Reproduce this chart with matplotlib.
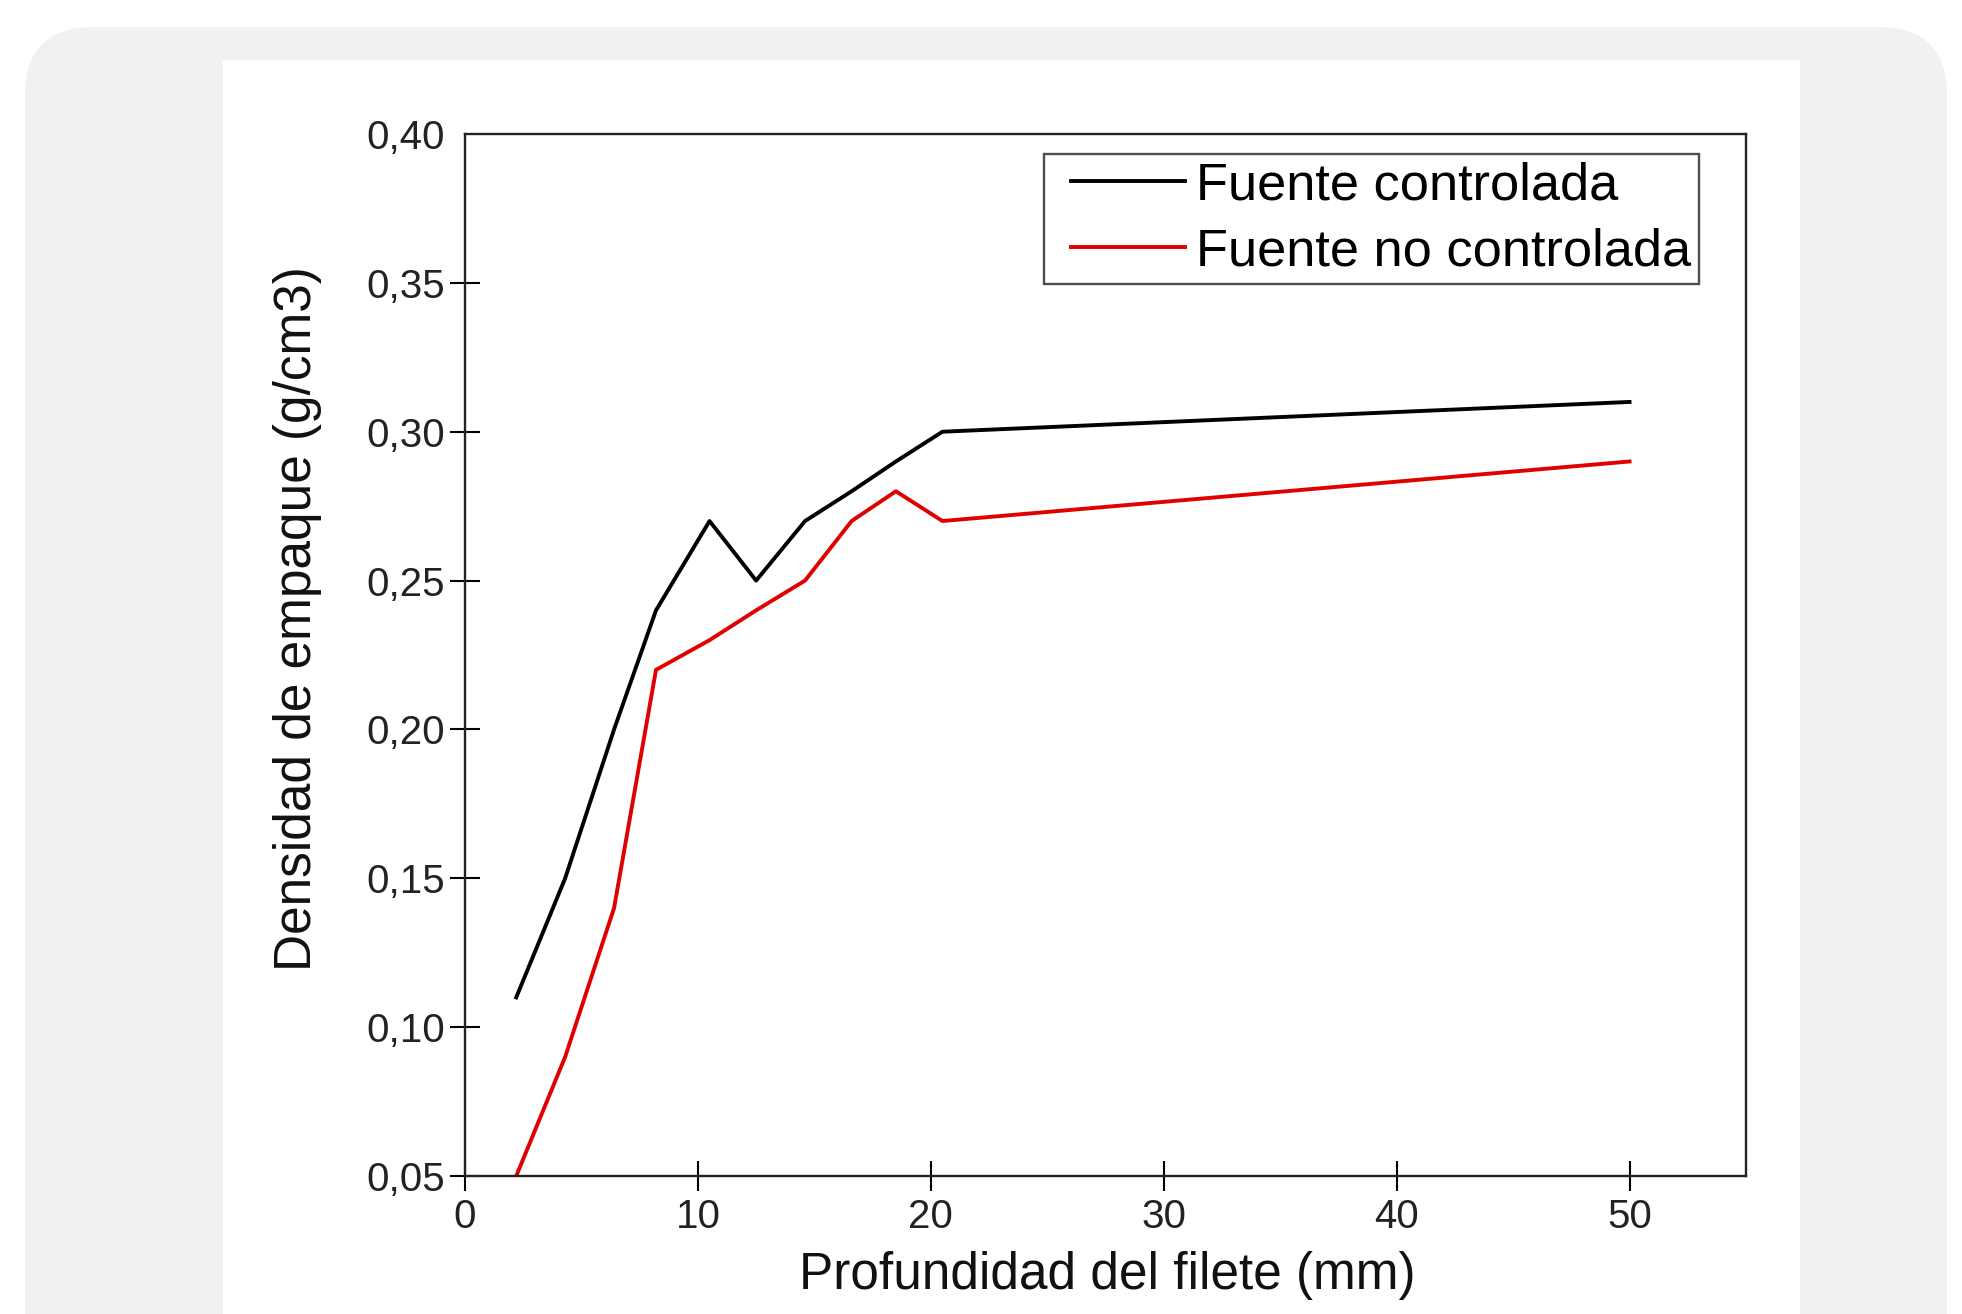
import matplotlib.pyplot as plt
from matplotlib.patches import FancyBboxPatch, Rectangle
from matplotlib.legend_handler import HandlerLine2D

plt.rcParams['font.family'] = ['Liberation Sans', 'DejaVu Sans']

# Data
profundidad = [2.2, 4.3, 6.4, 8.2, 10.5, 12.5, 14.6, 16.6, 18.5, 20.5, 50]
controlada = [0.11, 0.15, 0.20, 0.24, 0.27, 0.25, 0.27, 0.28, 0.29, 0.30, 0.31]
no_controlada = [0.05, 0.09, 0.14, 0.22, 0.23, 0.24, 0.25, 0.27, 0.28, 0.27, 0.29]

x_ticks = [0, 10, 20, 30, 40, 50]
y_ticks = [0.05, 0.10, 0.15, 0.20, 0.25, 0.30, 0.35, 0.40]
y_ticklabels = ['0,05', '0,10', '0,15', '0,20', '0,25', '0,30', '0,35', '0,40']

W, H = 1962, 1314
fig = plt.figure(figsize=(W / 100, H / 100), dpi=100)
fig.patch.set_facecolor('white')

# grey rounded card and white panel behind the chart
card = FancyBboxPatch((25 / W, -0.2), 1922 / W, 1.2 - 27 / H,
                      boxstyle='round,pad=0,rounding_size=0.035',
                      transform=fig.transFigure, facecolor='#f1f1f1',
                      edgecolor='none', mutation_aspect=W / H, zorder=-2)
fig.patches.append(card)
panel = Rectangle((223 / W, 0), (1800 - 223) / W, 1 - 60 / H,
                  transform=fig.transFigure, facecolor='white',
                  edgecolor='none', zorder=-1)
fig.patches.append(panel)

ax = fig.add_axes([465 / W, 1 - 1176 / H, (1746 - 465) / W, (1176 - 134) / H])
ax.set_facecolor('white')

ax.plot(profundidad, controlada, color='black', lw=2.8, label='Fuente controlada')
ax.plot(profundidad, no_controlada, color='#e00000', lw=2.8, label='Fuente no controlada')

ax.set_xlim(0, 55)
ax.set_ylim(0.05, 0.40)
ax.set_xticks(x_ticks)
ax.set_xticklabels([str(v) for v in x_ticks])
ax.set_yticks(y_ticks)
ax.set_yticklabels(y_ticklabels)
ax.tick_params(direction='inout', length=21, width=1.5, labelsize=29, pad=5,
               colors='black', labelcolor='#222222')
ax.tick_params(axis='y', pad=4)
ax.yaxis.get_major_ticks()[-1].tick1line.set_visible(False)
for s in ax.spines.values():
    s.set_linewidth(1.7)
    s.set_color('#222222')

fig.text(1107 / W, 1 - 1276 / H, 'Profundidad del filete (mm)', fontsize=37,
         ha='center', va='center', color='#111111')
fig.text(297 / W, 1 - 619 / H, 'Densidad de empaque (g/cm3)', fontsize=37,
         ha='center', va='center', rotation=90, color='#111111')

leg = ax.legend(loc='upper right', bbox_to_anchor=(0.963, 0.981), borderaxespad=0,
                fontsize=37.7, frameon=True, fancybox=False, handlelength=2.55,
                handletextpad=0.2, borderpad=0.15, labelspacing=0.32,
                handler_map={plt.Line2D: HandlerLine2D(xpad=0.37)})
leg.get_frame().set_edgecolor('#222222')
leg.get_frame().set_linewidth(1.7)
for line in leg.get_lines():
    line.set_linewidth(2.8)

fig.savefig('out.png', dpi=100, facecolor=fig.get_facecolor())
